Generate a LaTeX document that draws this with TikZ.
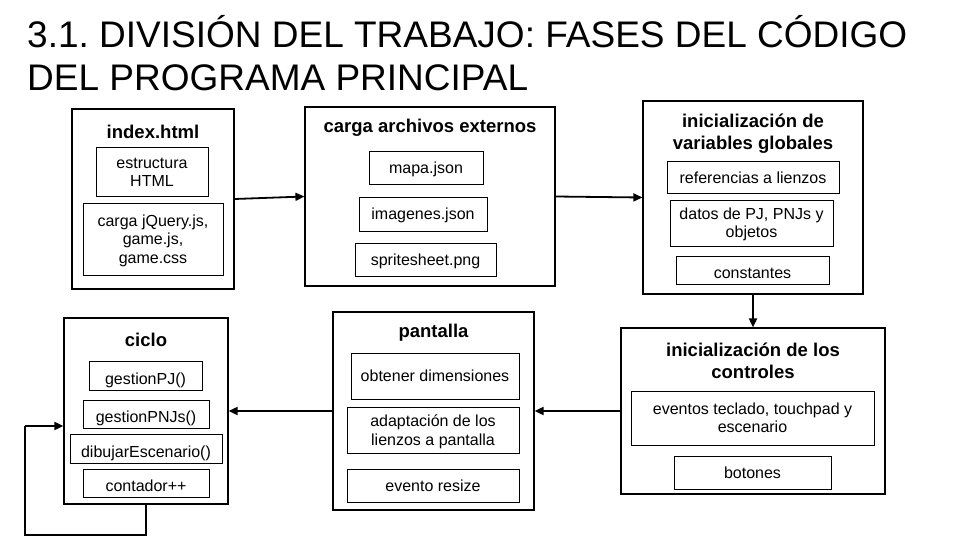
\documentclass[tikz,border=0pt]{standalone}
\usepackage{fontspec}
\setmainfont{Liberation Sans}
\usetikzlibrary{arrows.meta}
\frenchspacing
\begin{document}
\begin{tikzpicture}[x=1pt,y=-1pt,
  outer/.style={draw=black, line width=1.2pt, rectangle, inner sep=0pt},
  inner/.style={draw=black, line width=1pt, rectangle, inner sep=0pt, align=center,
    text depth=0pt, font=\fontsize{16}{18.3}\selectfont},
  lowtext/.style={text height=17pt, text depth=0pt},
  ttl/.style={align=center, inner sep=0pt, font=\fontsize{18.5}{21.7}\selectfont\bfseries},
  conn/.style={line width=1.8pt, -{Triangle[length=9pt,width=8pt]}},
  plain/.style={line width=1.8pt}]
\useasboundingbox (0,0) rectangle (960,540);
% heading
\node[anchor=base west, inner sep=0pt, font=\fontsize{37}{44}\selectfont] (h1) at (27,48) {3.1. DIVISIÓN DEL TRABAJO: FASES DEL CÓDIGO};
\node[anchor=base west, inner sep=0pt, font=\fontsize{37}{44}\selectfont] (h2) at (27,91) {DEL PROGRAMA PRINCIPAL};
% index.html
\node[outer, minimum width=162pt, minimum height=180pt] (idx) at (153,199) {};
\node[ttl] (idxt) at (153,132) {index.html};
\node[inner, minimum width=112pt, minimum height=48pt] (idx1) at (152,172) {estructura\\HTML};
\node[inner, minimum width=140pt, minimum height=72pt] (idx2) at (153,239) {carga jQuery.js,\\game.js,\\game.css};
% carga archivos externos
\node[outer, minimum width=250pt, minimum height=179pt] (car) at (430,196.5) {};
\node[ttl] (cart) at (430,128) {carga archivos externos};
\node[inner, minimum width=114pt, minimum height=32pt] (car1) at (426,168) {mapa.json};
\node[inner, minimum width=128pt, minimum height=34pt] (car2) at (423,214) {imagenes.json};
\node[inner, minimum width=141pt, minimum height=33pt] (car3) at (425.5,259.5) {spritesheet.png};
% variables globales
\node[outer, minimum width=220pt, minimum height=193pt] (var) at (753,197.5) {};
\node[ttl] (vart) at (753,134) {inicialización de\\variables globales};
\node[inner, minimum width=172pt, minimum height=31pt] (var1) at (753,177.5) {referencias a lienzos};
\node[inner, minimum width=163pt, minimum height=46pt] (var2) at (751.5,223) {datos de PJ, PNJs y\\objetos};
\node[inner, minimum width=153pt, minimum height=28pt, lowtext] (var3) at (752.5,270) {constantes};
% controles
\node[outer, minimum width=264pt, minimum height=166pt] (ctl) at (753,411) {};
\node[ttl] (ctlt) at (753,360.5) {inicialización de los\\controles};
\node[inner, minimum width=243pt, minimum height=54pt] (ctl1) at (752.5,418) {eventos teclado, touchpad y\\escenario};
\node[inner, minimum width=157pt, minimum height=33pt] (ctl2) at (752.5,472.5) {botones};
% pantalla
\node[outer, minimum width=201pt, minimum height=198pt] (pan) at (433.5,411) {};
\node[ttl] (pant) at (433.5,333) {pantalla};
\node[inner, minimum width=168pt, minimum height=46pt] (pan1) at (435,376) {obtener dimensiones};
\node[inner, minimum width=172pt, minimum height=46pt] (pan2) at (433,430) {adaptación de los\\lienzos a pantalla};
\node[inner, minimum width=172pt, minimum height=33pt] (pan3) at (433,485.5) {evento resize};
% ciclo
\node[outer, minimum width=164pt, minimum height=186pt] (cic) at (146,411) {};
\node[ttl] (cict) at (146,340) {ciclo};
\node[inner, minimum width=113pt, minimum height=29pt, lowtext] (cic1) at (145.5,375.5) {gestionPJ()};
\node[inner, minimum width=126pt, minimum height=28pt, lowtext] (cic2) at (146,414) {gestionPNJs()};
\node[inner, minimum width=152pt, minimum height=29pt, lowtext] (cic3) at (146,448.5) {dibujarEscenario()};
\node[inner, minimum width=126pt, minimum height=28pt, lowtext] (cic4) at (146,483) {contador++};
% connectors
\draw[conn] (idx.east) -- (car.west);
\draw[conn] (car.east) -- (var.west);
\draw[conn] (var.south) -- (ctl.north);
\draw[conn] (ctl.west) -- (pan.east);
\draw[conn] (pan.west) -- (cic.east);
\coordinate (lb) at (25,535);
\coordinate (lt) at (25,426);
\draw[plain] (cic.south) -- (cic.south |- lb) -- (lb) -- (lt);
\draw[conn] (lt) -- (lt -| cic.west);
\end{tikzpicture}
\end{document}
